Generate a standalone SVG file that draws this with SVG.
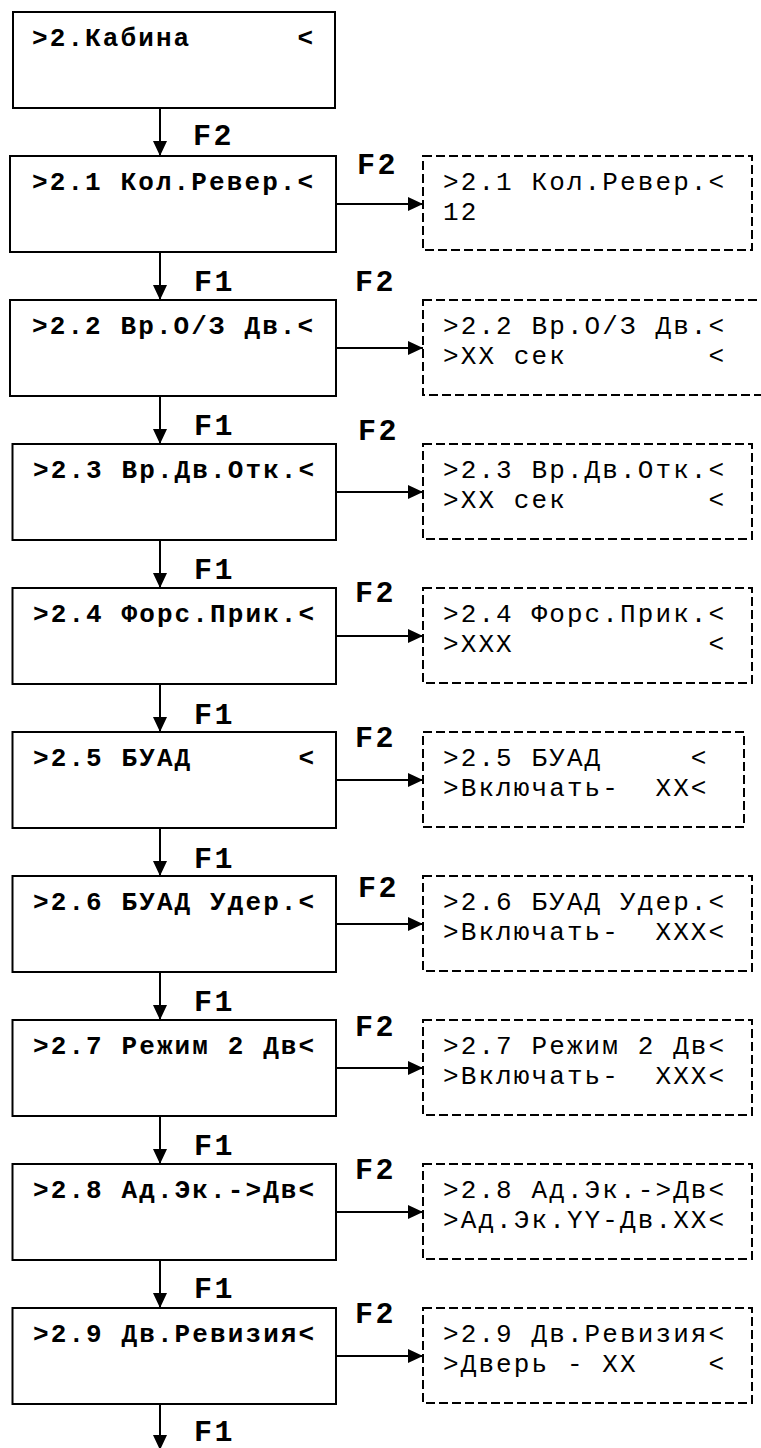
<svg xmlns="http://www.w3.org/2000/svg" width="761" height="1448" viewBox="0 0 761 1448" xml:space="preserve">
<style>
.box{fill:#fff;stroke:#000;stroke-width:2}
.dbox{fill:#fff;stroke:#000;stroke-width:2;stroke-dasharray:9 4}
.bt{font-family:"Liberation Mono","Courier New",monospace;font-weight:bold;font-size:26px;letter-spacing:2.1px;fill:#000;white-space:pre}
.dt{font-family:"Liberation Mono","Courier New",monospace;font-size:26px;letter-spacing:2.1px;fill:#000;white-space:pre}
.lbl{font-family:"Liberation Mono","Courier New",monospace;font-weight:bold;font-size:30px;letter-spacing:2.5px;fill:#000}
.conn{stroke:#000;stroke-width:2;fill:none;marker-end:url(#ah)}
</style>
<defs>
<marker id="ah" markerUnits="userSpaceOnUse" markerWidth="15" markerHeight="14" refX="15" refY="7" orient="auto">
<path d="M0,0 L15,7 L0,14 z" fill="#000"/>
</marker>
</defs>
<rect width="761" height="1448" fill="#fff"/>

<g id="connectors">
<line class="conn" x1="160" y1="108" x2="160" y2="156"/>
<line class="conn" x1="160" y1="252" x2="160" y2="300"/>
<line class="conn" x1="160" y1="396" x2="160" y2="444"/>
<line class="conn" x1="160" y1="540" x2="160" y2="588"/>
<line class="conn" x1="160" y1="684" x2="160" y2="732"/>
<line class="conn" x1="160" y1="828" x2="160" y2="876"/>
<line class="conn" x1="160" y1="972" x2="160" y2="1020"/>
<line class="conn" x1="160" y1="1116" x2="160" y2="1164"/>
<line class="conn" x1="160" y1="1260" x2="160" y2="1308"/>
<line class="conn" x1="160" y1="1404" x2="160" y2="1450"/>
<line class="conn" x1="336" y1="204" x2="423" y2="204"/>
<line class="conn" x1="336" y1="348" x2="423" y2="348"/>
<line class="conn" x1="336" y1="492" x2="423" y2="492"/>
<line class="conn" x1="336" y1="636" x2="423" y2="636"/>
<line class="conn" x1="336" y1="780" x2="423" y2="780"/>
<line class="conn" x1="336" y1="924" x2="423" y2="924"/>
<line class="conn" x1="336" y1="1068" x2="423" y2="1068"/>
<line class="conn" x1="336" y1="1212" x2="423" y2="1212"/>
<line class="conn" x1="336" y1="1356" x2="423" y2="1356"/>
<text class="lbl" x="193" y="145">F2</text>
<text class="lbl" x="194" y="291">F1</text>
<text class="lbl" x="194" y="435">F1</text>
<text class="lbl" x="194" y="579">F1</text>
<text class="lbl" x="194" y="724">F1</text>
<text class="lbl" x="194" y="868">F1</text>
<text class="lbl" x="194" y="1011">F1</text>
<text class="lbl" x="194" y="1155">F1</text>
<text class="lbl" x="194" y="1298">F1</text>
<text class="lbl" x="194" y="1441">F1</text>
<text class="lbl" x="357" y="174">F2</text>
<text class="lbl" x="355" y="291">F2</text>
<text class="lbl" x="358" y="440">F2</text>
<text class="lbl" x="355" y="602">F2</text>
<text class="lbl" x="355" y="747">F2</text>
<text class="lbl" x="358" y="897">F2</text>
<text class="lbl" x="355" y="1036">F2</text>
<text class="lbl" x="355" y="1179">F2</text>
<text class="lbl" x="355" y="1323">F2</text>
</g>

<g id="n0"><rect class="box" x="13" y="12" width="322" height="96"/><text class="bt" x="32" y="46">&gt;2.Кабина      &lt;</text></g>
<g id="n1"><rect class="box" x="10" y="156" width="326" height="96"/><text class="bt" x="32" y="190">&gt;2.1 Кол.Ревер.&lt;</text></g>
<g id="n2"><rect class="box" x="10" y="300" width="326" height="96"/><text class="bt" x="32" y="334">&gt;2.2 Вр.О/З Дв.&lt;</text></g>
<g id="n3"><rect class="box" x="12.5" y="444" width="323.5" height="96"/><text class="bt" x="33" y="478">&gt;2.3 Вр.Дв.Отк.&lt;</text></g>
<g id="n4"><rect class="box" x="12.5" y="588" width="323.5" height="96"/><text class="bt" x="33" y="622">&gt;2.4 Форс.Прик.&lt;</text></g>
<g id="n5"><rect class="box" x="12.5" y="732" width="323.5" height="96"/><text class="bt" x="33" y="766">&gt;2.5 БУАД      &lt;</text></g>
<g id="n6"><rect class="box" x="12.5" y="876" width="323.5" height="96"/><text class="bt" x="33" y="910">&gt;2.6 БУАД Удер.&lt;</text></g>
<g id="n7"><rect class="box" x="12.5" y="1020" width="323.5" height="96"/><text class="bt" x="33" y="1054">&gt;2.7 Режим 2 Дв&lt;</text></g>
<g id="n8"><rect class="box" x="12.5" y="1164" width="323.5" height="96"/><text class="bt" x="33" y="1198">&gt;2.8 Ад.Эк.-&gt;Дв&lt;</text></g>
<g id="n9"><rect class="box" x="12.5" y="1308" width="323.5" height="96"/><text class="bt" x="33" y="1342">&gt;2.9 Дв.Ревизия&lt;</text></g>

<g id="d1"><rect class="dbox" x="423" y="156" width="329" height="94"/><text class="dt" x="443" y="190">&gt;2.1 Кол.Ревер.&lt;</text><text class="dt" x="443" y="220">12</text></g>
<g id="d2"><rect class="dbox" x="423" y="300" width="350" height="95"/><text class="dt" x="443" y="334">&gt;2.2 Вр.О/З Дв.&lt;</text><text class="dt" x="443" y="364">&gt;XX сек        &lt;</text></g>
<g id="d3"><rect class="dbox" x="423" y="444" width="329" height="95"/><text class="dt" x="443" y="478">&gt;2.3 Вр.Дв.Отк.&lt;</text><text class="dt" x="443" y="508">&gt;XX сек        &lt;</text></g>
<g id="d4"><rect class="dbox" x="423" y="588" width="329" height="95"/><text class="dt" x="443" y="622">&gt;2.4 Форс.Прик.&lt;</text><text class="dt" x="443" y="652">&gt;XXX           &lt;</text></g>
<g id="d5"><rect class="dbox" x="423" y="732" width="321" height="95"/><text class="dt" x="443" y="766">&gt;2.5 БУАД     &lt;</text><text class="dt" x="443" y="796">&gt;Включать-  XX&lt;</text></g>
<g id="d6"><rect class="dbox" x="423" y="876" width="329" height="95"/><text class="dt" x="443" y="910">&gt;2.6 БУАД Удер.&lt;</text><text class="dt" x="443" y="940">&gt;Включать-  XXX&lt;</text></g>
<g id="d7"><rect class="dbox" x="423" y="1020" width="329" height="95"/><text class="dt" x="443" y="1054">&gt;2.7 Режим 2 Дв&lt;</text><text class="dt" x="443" y="1084">&gt;Включать-  XXX&lt;</text></g>
<g id="d8"><rect class="dbox" x="423" y="1164" width="329" height="95"/><text class="dt" x="443" y="1198">&gt;2.8 Ад.Эк.-&gt;Дв&lt;</text><text class="dt" x="443" y="1228">&gt;Ад.Эк.YY-Дв.XX&lt;</text></g>
<g id="d9"><rect class="dbox" x="423" y="1308" width="329" height="95"/><text class="dt" x="443" y="1342">&gt;2.9 Дв.Ревизия&lt;</text><text class="dt" x="443" y="1372">&gt;Дверь - XX    &lt;</text></g>
</svg>
